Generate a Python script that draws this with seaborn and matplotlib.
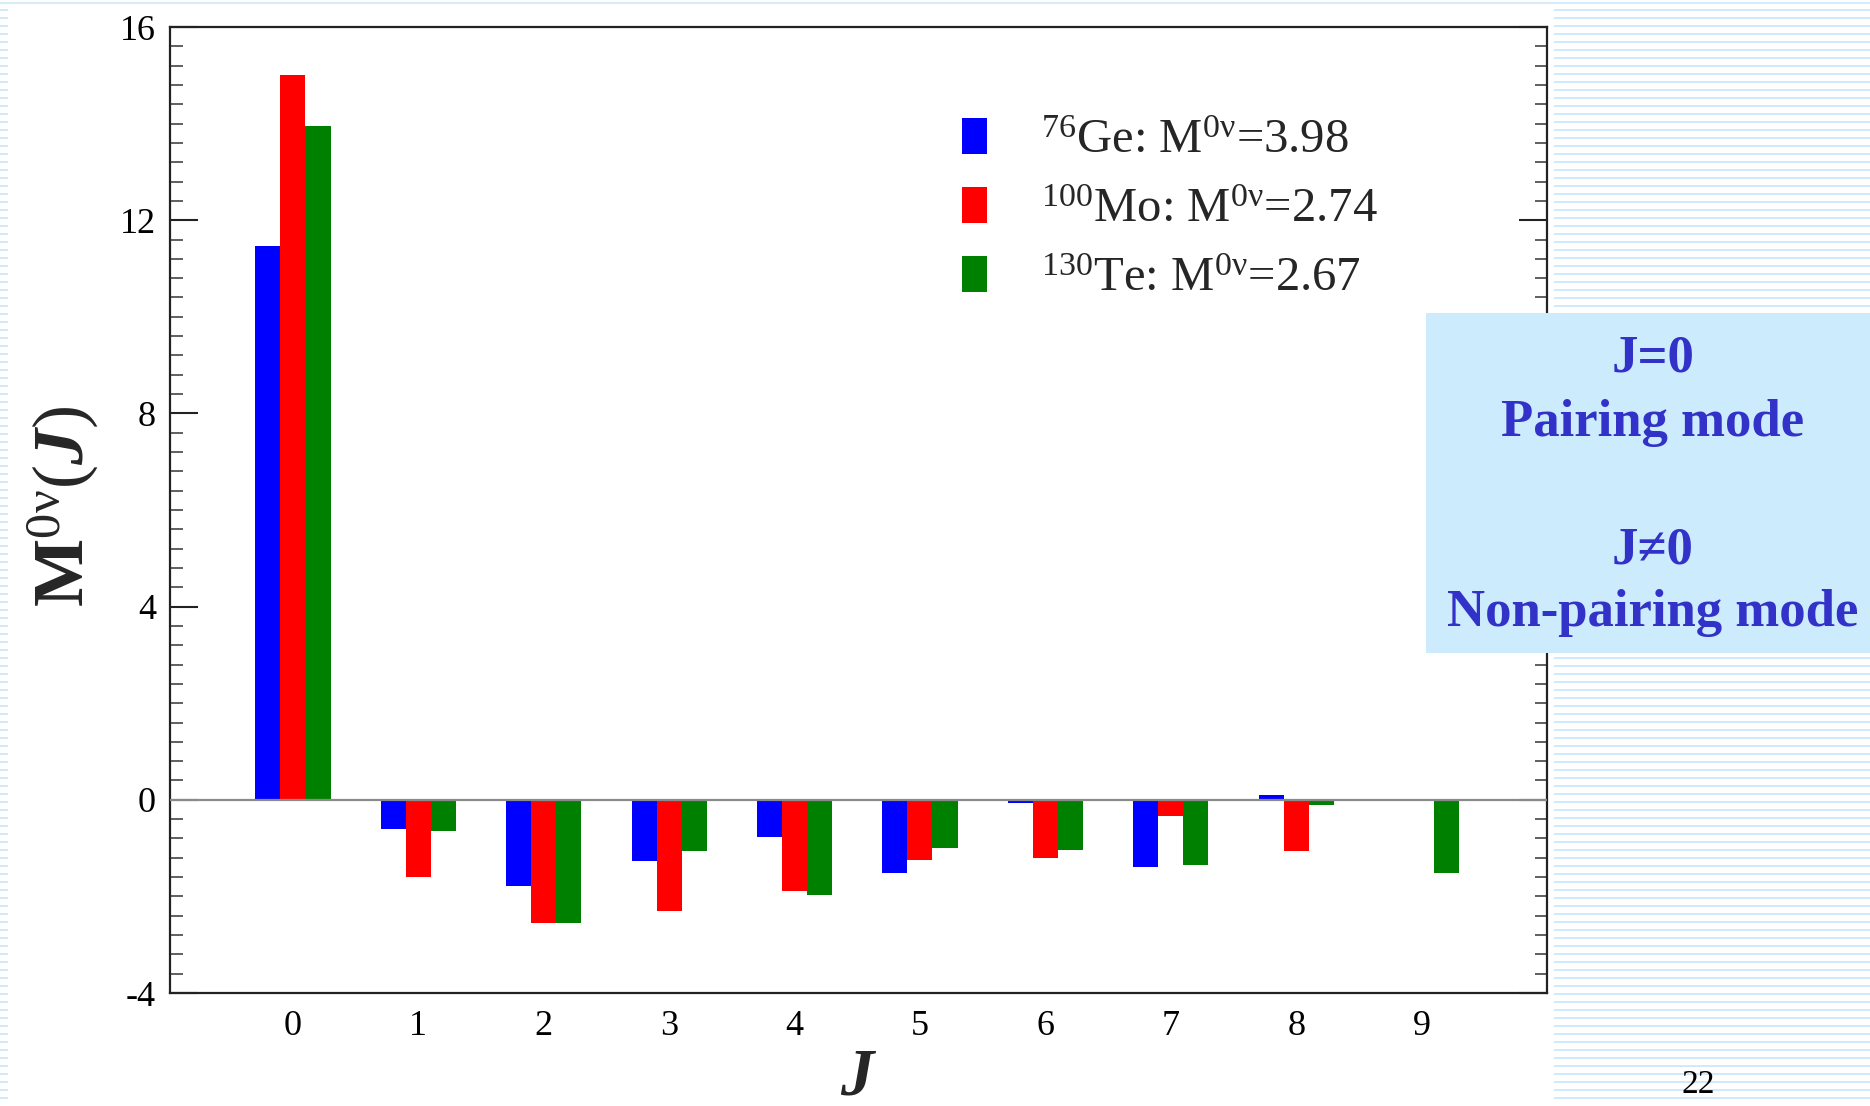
import numpy as np
import pandas as pd
import seaborn as sns
import matplotlib
matplotlib.use("Agg")
import matplotlib.pyplot as plt
from matplotlib.ticker import MultipleLocator
from matplotlib.patches import Rectangle

# ---------------- data ----------------
J_values = [0, 1, 2, 3, 4, 5, 6, 7, 8, 9]
nuclei = ["Ge76", "Mo100", "Te130"]
ge76 = [11.46, -0.61, -1.79, -1.27, -0.77, -1.52, -0.07, -1.40, 0.10, 0.0]
mo100 = [15.01, -1.60, -2.56, -2.31, -1.89, -1.24, -1.20, -0.34, -1.06, 0.0]
te130 = [13.94, -0.65, -2.56, -1.06, -1.98, -0.99, -1.03, -1.36, -0.11, -1.52]
legend_labels = [r"$^{76}$Ge: M$^{0\mathrm{\nu}}$=3.98",
                 r"$^{100}$Mo: M$^{0\mathrm{\nu}}$=2.74",
                 r"$^{130}$Te: M$^{0\mathrm{\nu}}$=2.67"]
colors = ["#0000ff", "#ff0000", "#008000"]
y_ticks = [-4, 0, 4, 8, 12, 16]
box_lines = ["J=0", "Pairing mode", "J\u22600", "Non-pairing mode"]
page_number = "22"

df = pd.DataFrame({
    "J": [str(j) for j in J_values] * 3,
    "nucleus": [n for n in nuclei for _ in J_values],
    "value": ge76 + mo100 + te130,
})

# ---------------- style ----------------
sns.set_style("white")
plt.rcParams["font.family"] = ["Liberation Serif", "DejaVu Serif"]
plt.rcParams["mathtext.fontset"] = "custom"
plt.rcParams["mathtext.rm"] = "Liberation Serif"
plt.rcParams["mathtext.it"] = "Liberation Serif:italic"
plt.rcParams["mathtext.bf"] = "Liberation Serif:bold"
plt.rcParams["mathtext.bfit"] = "Liberation Serif:italic:bold"
plt.rcParams["axes.unicode_minus"] = False

W, H = 1870, 1106
fig = plt.figure(figsize=(W / 100, H / 100), dpi=100)
fig.patch.set_facecolor("white")

# background slide stripes
bg = fig.add_axes([0, 0, 1, 1], zorder=-5)
bg.set_xlim(0, W)
bg.set_ylim(H, 0)
bg.axis("off")
stripe = "#cfe6f8"
ys = np.arange(10, H, 8)
bg.hlines(ys, 1554, W, color=stripe, lw=1.3)
bg.hlines(ys, 0, 8, color=stripe, lw=1.3)
bg.hlines([3], 0, W, color="#d6ecfa", lw=1.5)

# main axes
L, R, T, B = 170, 1547, 27, 993
ax = fig.add_axes([L / W, 1 - B / H, (R - L) / W, (B - T) / H])
ax.set_facecolor("white")

sns.barplot(data=df, x="J", y="value", hue="nucleus", order=[str(j) for j in J_values],
            hue_order=nuclei, palette=colors, saturation=1, width=0.6, gap=0,
            errorbar=None, ax=ax, zorder=2, linewidth=0)

ax.axhline(0, color="#8a8a8a", lw=1.6, zorder=3)
ax.set_xlim(-0.98, 10.0)
ax.set_ylim(-4, 16)
ax.set_yticks(y_ticks)
ax.yaxis.set_minor_locator(MultipleLocator(0.4))
ax.tick_params(axis="y", which="major", direction="in", length=20, width=1.5,
               right=True, left=True, labelsize=26, pad=10, colors="#222222",
               labelcolor="black")
ax.tick_params(axis="y", which="minor", direction="in", length=9, width=1.2,
               right=True, left=True, colors="#444444")
ax.tick_params(axis="x", which="both", length=0, labelsize=26, pad=12, labelcolor="black")
for s in ax.spines.values():
    s.set_color("#222222")
    s.set_linewidth(1.6)
    s.set_visible(True)

ax.set_xlabel(r"$\mathbfit{J}$", fontsize=48)
ax.xaxis.set_label_coords(0.5, -0.056)
ax.set_ylabel(r"$\mathbf{M}^{0\mathrm{\nu}}(\mathbfit{J})$", fontsize=52)
ax.yaxis.set_label_coords(-0.05, 0.504)

handles, _ = ax.get_legend_handles_labels()
leg = ax.legend(handles, legend_labels, loc="upper left",
                bbox_to_anchor=(962 / W, 1 - 118 / H), bbox_transform=fig.transFigure,
                frameon=False, fontsize=35, handlelength=0.52, handleheight=0.76,
                handletextpad=1.1, labelspacing=0.5, borderpad=0, borderaxespad=0)

# right-hand info box
box = Rectangle((1426 / W, 1 - 653 / H), (W - 1426) / W, (653 - 313) / H,
                transform=fig.transFigure, facecolor="#ccebfc", edgecolor="none", zorder=5)
fig.add_artist(box)
text_c = "#3232c8"
for txt, yc in zip(box_lines, [358, 423, 550, 613]):
    fig.text(1653 / W, 1 - yc / H, txt, ha="center", va="center", fontsize=38,
             fontweight="bold", color=text_c, zorder=6)

fig.text(1698 / W, 1 - 1085 / H, page_number, ha="center", va="center", fontsize=24,
         color="black")

fig.savefig("out.png", dpi=100)
